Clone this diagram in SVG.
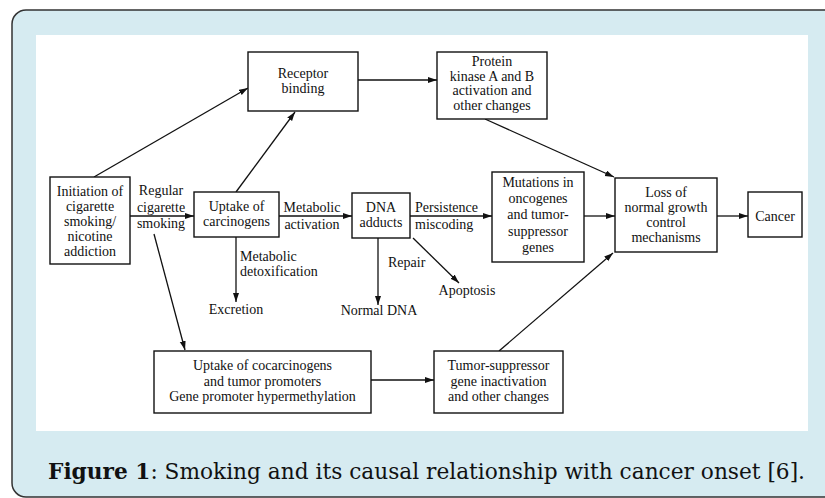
<svg xmlns="http://www.w3.org/2000/svg" width="825" height="498" viewBox="0 0 825 498">
<defs>
<marker id="ah" markerUnits="userSpaceOnUse" markerWidth="10" markerHeight="7" refX="9" refY="3" orient="auto">
<path d="M0,0 L9,3 L0,6 z" fill="#111"/>
</marker>
<style>
.box{fill:#fff;stroke:#111;stroke-width:1.4}
.t{font-family:"Liberation Serif","Times New Roman",serif;font-size:14px;fill:#111}
.c{text-anchor:middle}
.ln{stroke:#111;stroke-width:1.3;fill:none;marker-end:url(#ah)}
.cap{font-family:"DejaVu Serif","Liberation Serif",serif;font-size:22px;fill:#111}
</style>
</defs>
<rect x="0" y="0" width="825" height="498" fill="#fff"/>
<rect x="12" y="10" width="840" height="487" rx="14" fill="#d6ebf1" stroke="#333" stroke-width="1.5"/>
<rect x="36" y="35" width="772" height="396" fill="#fff"/>

<g id="connectors">
<line class="ln" x1="94" y1="177" x2="248" y2="88"/>
<line class="ln" x1="236" y1="192" x2="295" y2="112"/>
<line class="ln" x1="358" y1="80" x2="437" y2="80"/>
<line class="ln" x1="485" y1="119" x2="614" y2="177"/>
<line class="ln" x1="130" y1="216" x2="194" y2="216"/>
<line class="ln" x1="279" y1="216" x2="352" y2="216"/>
<line class="ln" x1="410" y1="216" x2="492" y2="216"/>
<line class="ln" x1="584" y1="216" x2="615" y2="216"/>
<line class="ln" x1="717" y1="216" x2="748" y2="216"/>
<line class="ln" x1="154" y1="234" x2="185" y2="350"/>
<line class="ln" x1="236" y1="237" x2="236" y2="302"/>
<line class="ln" x1="378" y1="238" x2="378" y2="305"/>
<line class="ln" x1="413" y1="238" x2="459" y2="283"/>
<line class="ln" x1="371" y1="380" x2="434" y2="380"/>
<line class="ln" x1="499" y1="351" x2="613" y2="253"/>
<text class="t c" x="161"><tspan x="161" y="195">Regular</tspan><tspan x="161" y="212">cigarette</tspan><tspan x="161" y="228">smoking</tspan></text>
<text class="t c" x="312"><tspan x="312" y="212">Metabolic</tspan><tspan x="312" y="229">activation</tspan></text>
<text class="t" x="415"><tspan x="415" y="212">Persistence</tspan><tspan x="415" y="229">miscoding</tspan></text>
<text class="t" x="240"><tspan x="240" y="261">Metabolic</tspan><tspan x="240" y="276">detoxification</tspan></text>
<text class="t" x="388" y="267">Repair</text>
</g>

<g id="n-init">
<rect class="box" x="50" y="177" width="80" height="87"/>
<text class="t c"><tspan x="90" y="196">Initiation of</tspan><tspan x="90" y="211">cigarette</tspan><tspan x="90" y="226">smoking/</tspan><tspan x="90" y="241">nicotine</tspan><tspan x="90" y="256">addiction</tspan></text>
</g>
<g id="n-receptor">
<rect class="box" x="248" y="52" width="110" height="59"/>
<text class="t c"><tspan x="303" y="78">Receptor</tspan><tspan x="303" y="93">binding</tspan></text>
</g>
<g id="n-protein">
<rect class="box" x="437" y="52" width="110" height="67"/>
<text class="t c"><tspan x="492" y="66">Protein</tspan><tspan x="492" y="81">kinase A and B</tspan><tspan x="492" y="95">activation and</tspan><tspan x="492" y="110">other changes</tspan></text>
</g>
<g id="n-uptake">
<rect class="box" x="194" y="192" width="85" height="45"/>
<text class="t c"><tspan x="236.5" y="211">Uptake of</tspan><tspan x="236.5" y="226">carcinogens</tspan></text>
</g>
<g id="n-dna">
<rect class="box" x="352" y="193" width="58" height="45"/>
<text class="t c"><tspan x="381" y="212">DNA</tspan><tspan x="381" y="227">adducts</tspan></text>
</g>
<g id="n-mutations">
<rect class="box" x="492" y="172" width="92" height="90"/>
<text class="t c"><tspan x="538" y="187">Mutations in</tspan><tspan x="538" y="203">oncogenes</tspan><tspan x="538" y="219">and tumor-</tspan><tspan x="538" y="236">suppressor</tspan><tspan x="538" y="252">genes</tspan></text>
</g>
<g id="n-loss">
<rect class="box" x="615" y="178" width="102" height="74"/>
<text class="t c"><tspan x="666" y="197">Loss of</tspan><tspan x="666" y="212">normal growth</tspan><tspan x="666" y="227">control</tspan><tspan x="666" y="242">mechanisms</tspan></text>
</g>
<g id="n-cancer">
<rect class="box" x="748" y="192" width="54" height="45"/>
<text class="t c" x="775" y="221">Cancer</text>
</g>
<g id="n-excretion">
<text class="t c" x="236" y="314">Excretion</text>
</g>
<g id="n-normaldna">
<text class="t c" x="379" y="315">Normal DNA</text>
</g>
<g id="n-apoptosis">
<text class="t c" x="467" y="295">Apoptosis</text>
</g>
<g id="n-cocarc">
<rect class="box" x="154" y="351" width="217" height="62"/>
<text class="t c"><tspan x="262.5" y="370">Uptake of cocarcinogens</tspan><tspan x="262.5" y="386">and tumor promoters</tspan><tspan x="262.5" y="401">Gene promoter hypermethylation</tspan></text>
</g>
<g id="n-tumor">
<rect class="box" x="434" y="351" width="129" height="62"/>
<text class="t c"><tspan x="498.5" y="370">Tumor-suppressor</tspan><tspan x="498.5" y="386">gene inactivation</tspan><tspan x="498.5" y="401">and other changes</tspan></text>
</g>

<text class="cap" x="48" y="479" textLength="757" lengthAdjust="spacingAndGlyphs"><tspan font-weight="bold">Figure 1</tspan>: Smoking and its causal relationship with cancer onset [6].</text>
</svg>
